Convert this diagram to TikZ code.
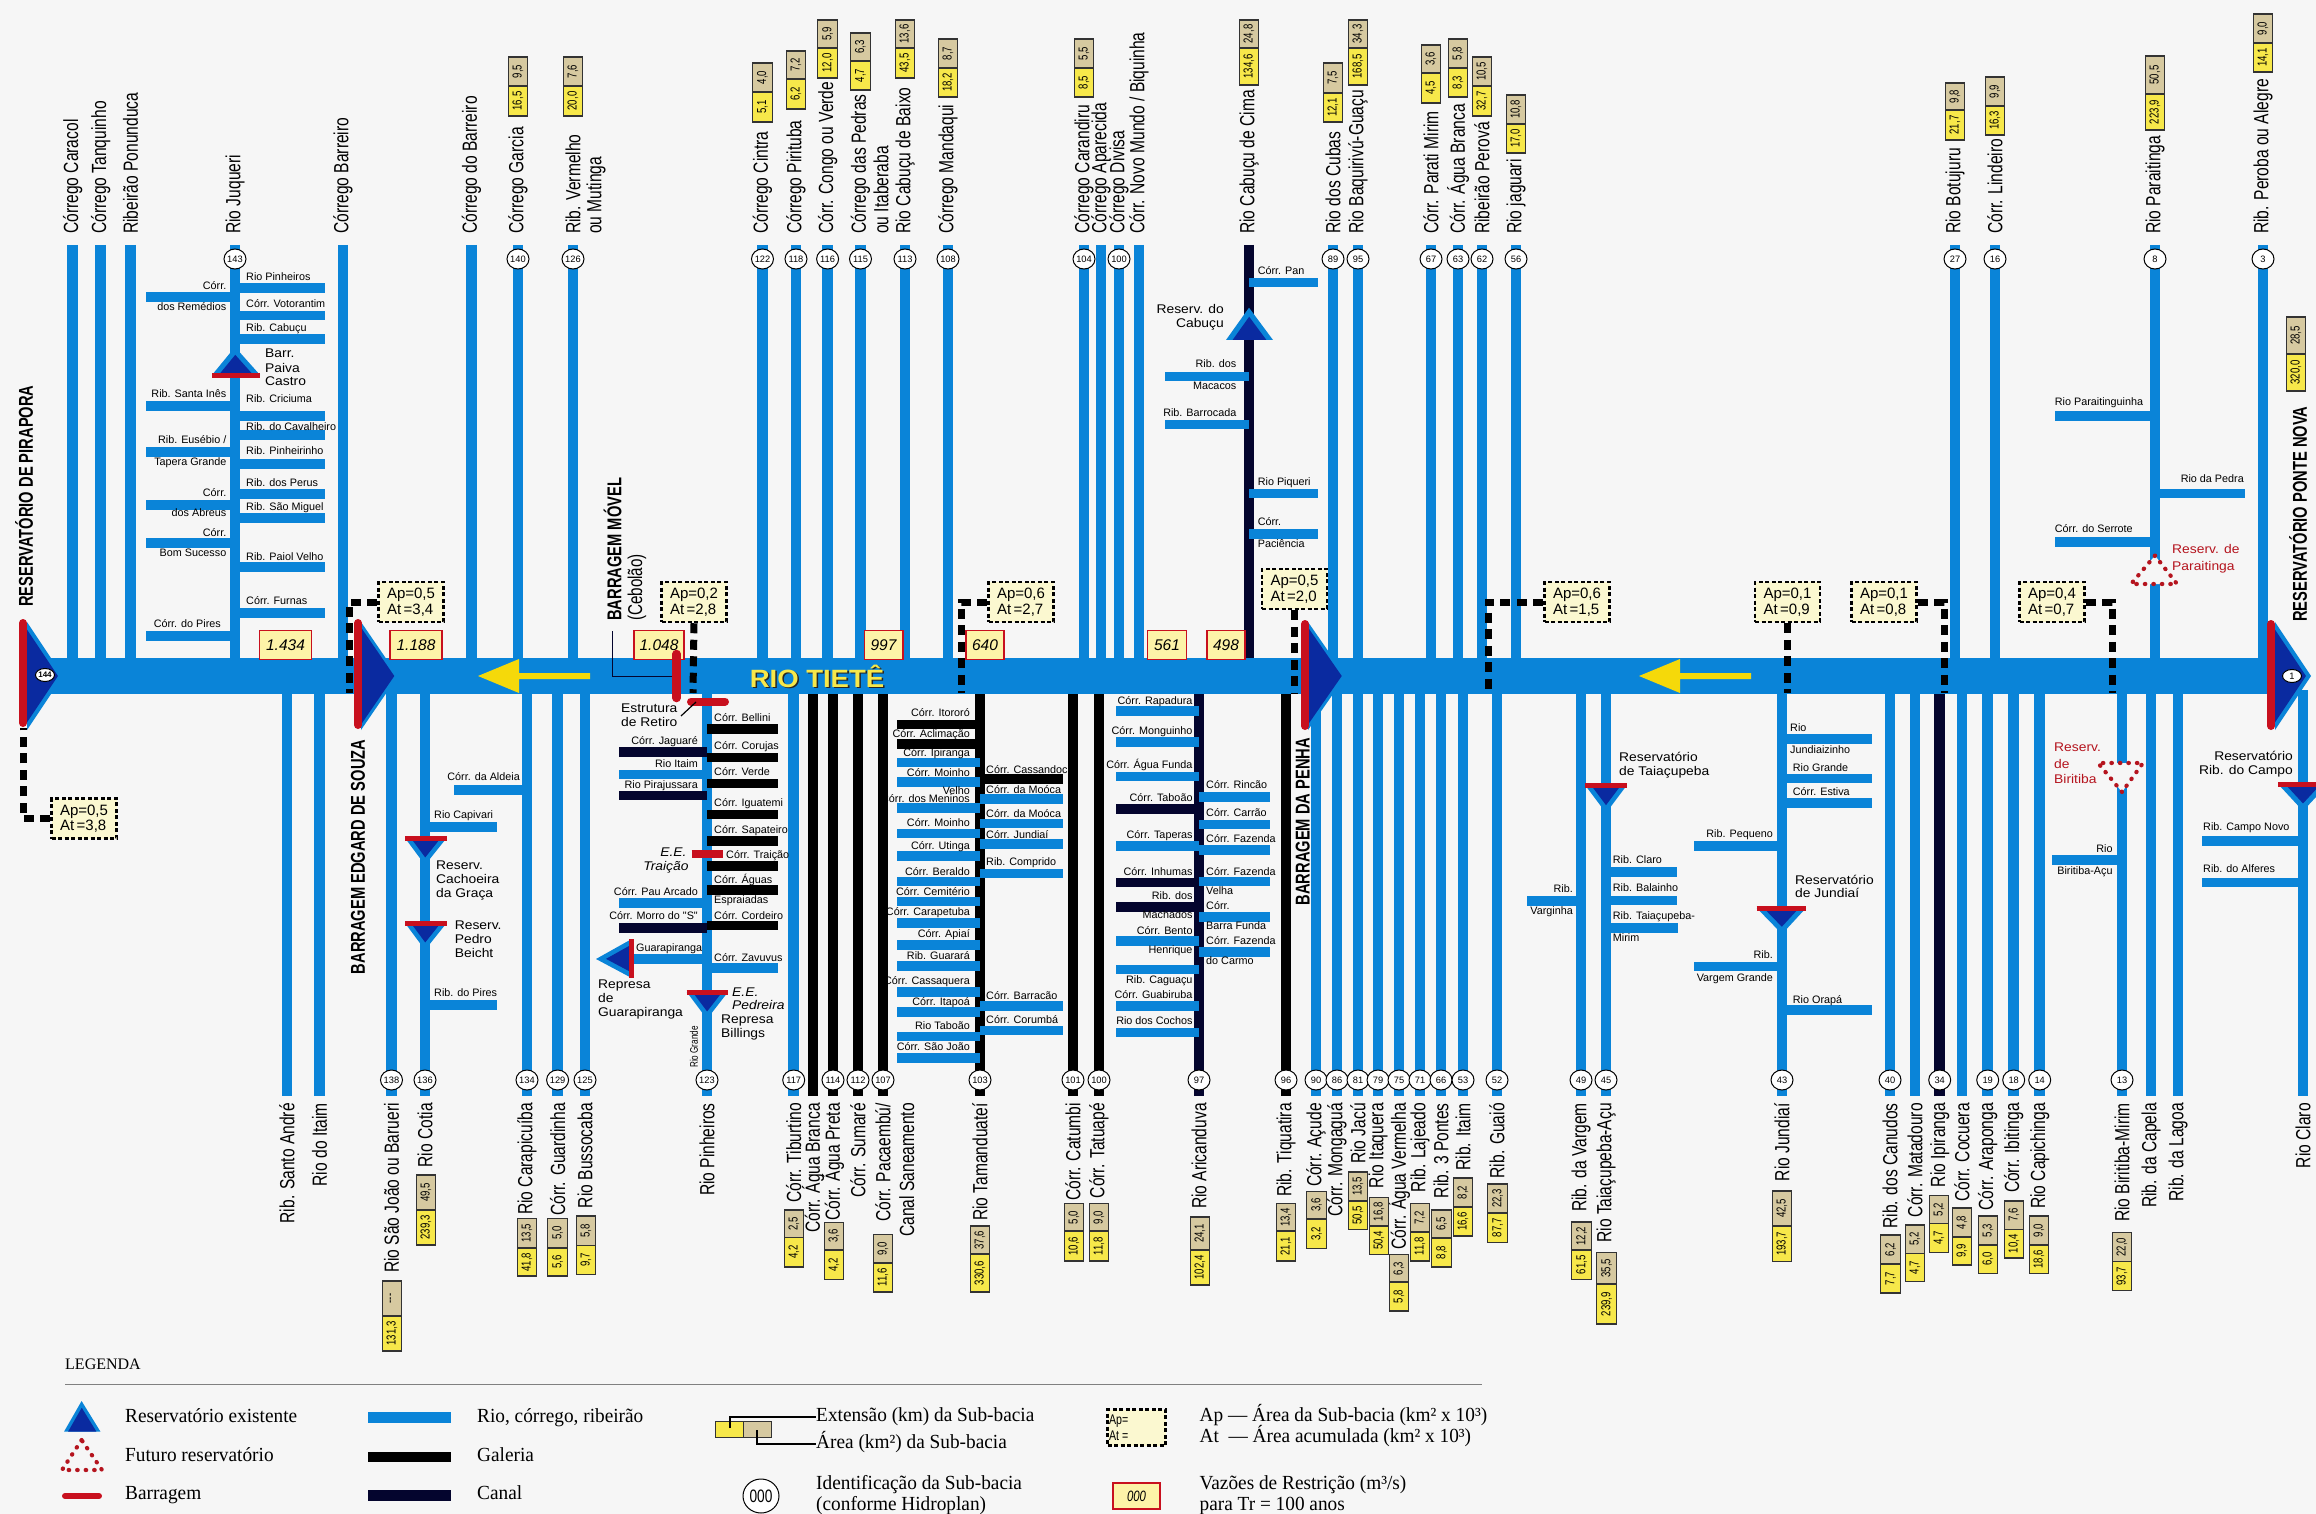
\documentclass[tikz,border=0pt]{standalone}
\usepackage{fontspec}
\usetikzlibrary{calc,shapes.geometric}
\setmainfont{Liberation Serif}
\newfontfamily\fS{Liberation Sans}
\newfontfamily\fN[FakeStretch=.76]{Liberation Sans}
\newfontfamily\fV[FakeStretch=.74]{Liberation Sans}
\newfontfamily\fB[FakeStretch=.735]{Liberation Sans}
\newfontfamily\fW[FakeStretch=1.1]{Liberation Sans}
\newfontfamily\fL[FakeStretch=.965]{Liberation Serif}
\definecolor{bgc}{HTML}{F6F6F6}
\definecolor{rivblue}{HTML}{0A84D8}
\definecolor{navyc}{HTML}{04052E}
\definecolor{dkblue}{HTML}{0A2AA0}
\definecolor{redc}{HTML}{C8101E}
\definecolor{yelc}{HTML}{F7E84A}
\definecolor{tanc}{HTML}{D6C9A0}
\definecolor{palec}{HTML}{FBF8D0}
\definecolor{valc}{HTML}{FDF3A8}
\definecolor{arrowc}{HTML}{F5D90A}
\definecolor{futc}{HTML}{B5141E}
\newcount\nn
\tikzset{
  riv/.style={draw=rivblue,line width=10.5},
  gal/.style={draw=black,line width=10.5},
  can/.style={draw=navyc,line width=10.5},
  briv/.style={draw=rivblue,line width=9.2},
  bgal/.style={draw=black,line width=9.2},
  bcan/.style={draw=navyc,line width=9.2},
  circ/.style={ellipse,draw=black,line width=1,fill=white,minimum width=22,minimum height=20,inner sep=0,font=\fS\fontsize{9.3}{10}\selectfont},
  toplbl/.style={rotate=90,anchor=west,inner sep=0,font=\fN\fontsize{20.5}{22}\selectfont},
  botlbl/.style={rotate=90,anchor=east,inner sep=0,font=\fN\fontsize{20.5}{22}\selectfont},
  boldlbl/.style={inner sep=0,rotate=90,font=\fB\bfseries\fontsize{20}{22}\selectfont},
  smlab/.style={inner sep=0,text height=8,text depth=2.3,font=\fS\fontsize{10.8}{12}\selectfont},
  widlab/.style={inner sep=0,anchor=west,text height=9.5,text depth=2.8,font=\fW\fontsize{12.6}{14}\selectfont},
  numt/.style={rotate=90,inner sep=0,font=\fV\fontsize{13}{14}\selectfont},
  valb/.style={draw=redc,line width=1.4,fill=valc,minimum height=29,inner sep=0,font=\fS\itshape\fontsize{15.5}{17}\selectfont},
  apb/.style={draw=black,line width=2.5,dash pattern=on 4 off 2.5,fill=palec,minimum width=65,minimum height=40,inner sep=0,align=left,font=\fS\fontsize{15}{15.5}\selectfont},
  dashc/.style={draw=black,line width=7,dash pattern=on 10 off 6.5},
  redbar/.style={draw=redc,line width=8,line cap=round},
  redflat/.style={draw=redc,line width=5},
  futtri/.style={draw=futc,fill=bgc,line width=4.2,dash pattern=on 0.5 off 8,line cap=round},
  leglab/.style={inner sep=0,anchor=west,text height=13,text depth=4,font=\fL\fontsize{20}{22}\selectfont},
}
\newcommand{\TopR}[4][riv]{\global\advance\nn by 1
  \coordinate (ra\the\nn) at (#2,245);
  \coordinate (rb\the\nn) at (#2,660);
  \draw[#1] (ra\the\nn) -- (rb\the\nn);
  \if\relax\detokenize{#3}\relax\else\node[circ] (c\the\nn) at (#2,259) {#3};\fi
  \node[toplbl] (l\the\nn) at (#2,234) {#4};}
\newcommand{\BotR}[4][riv]{\global\advance\nn by 1
  \coordinate (ra\the\nn) at (#2,690);
  \coordinate (rb\the\nn) at (#2,1096);
  \draw[#1] (ra\the\nn) -- (rb\the\nn);
  \if\relax\detokenize{#3}\relax\else\node[circ] (c\the\nn) at (#2,1080) {#3};\fi
  \node[botlbl] (l\the\nn) at (#2,1103) {#4};}
\newcommand{\TopL}[2]{\global\advance\nn by 1\node[toplbl] (l\the\nn) at (#1,234) {#2};}
\newcommand{\BotL}[2]{\global\advance\nn by 1\node[botlbl] (l\the\nn) at (#1,1103) {#2};}
\newcommand{\HBr}[4][briv]{\global\advance\nn by 1
  \coordinate (ha\the\nn) at (#2,#4);
  \coordinate (hb\the\nn) at (#3,#4);
  \draw[#1] (ha\the\nn) -- (hb\the\nn);}
\newcommand{\RLab}[4][]{\global\advance\nn by 1\node[smlab,anchor=west,#1] (s\the\nn) at (#2,#3) {#4};}
\newcommand{\LLab}[4][]{\global\advance\nn by 1\node[smlab,anchor=east,#1] (s\the\nn) at (#2,#3) {#4};}
\newcommand{\WLab}[4][]{\global\advance\nn by 1\node[widlab,#1] (w\the\nn) at (#2,#3) {#4};}
\newcommand{\NumB}[6]{\global\advance\nn by 1
  \fill[tanc] ({#1-9.8},#2) rectangle ({#1+9.8},#3);
  \fill[yelc] ({#1-9.8},#3) rectangle ({#1+9.8},#4);
  \draw[black!80,line width=1.1] ({#1-9.8},#2) rectangle ({#1+9.8},#4) ({#1-9.8},#3) -- ({#1+9.8},#3);
  \node[numt] (ny\the\nn) at (#1,{(#3+#4)/2}) {#5};
  \node[numt] (nt\the\nn) at (#1,{(#2+#3)/2}) {#6};}
\newcommand{\ValB}[3]{\global\advance\nn by 1
  \node[valb,minimum width=#2] (v\the\nn) at (#1,645) {#3};}
\newcommand{\TriR}[7][.28]{\global\advance\nn by 1
  \coordinate (ta\the\nn) at (#2,#3);
  \coordinate (tb\the\nn) at (#4,#5);
  \coordinate (tc\the\nn) at (#6,#7);
  \coordinate (tm\the\nn) at ($(tb\the\nn)!.5!(tc\the\nn)$);
  \fill[rivblue] (ta\the\nn) -- (tb\the\nn) -- (tc\the\nn) -- cycle;
  \fill[dkblue] ($(ta\the\nn)!#1!(tm\the\nn)$) -- ($(tb\the\nn)!#1!(tm\the\nn)$) -- ($(tc\the\nn)!#1!(tm\the\nn)$) -- cycle;}
\newcommand{\FutT}[6]{\global\advance\nn by 1
  \coordinate (fa\the\nn) at (#1,#2);
  \coordinate (fb\the\nn) at (#3,#4);
  \coordinate (fc\the\nn) at (#5,#6);
  \draw[futtri] (fa\the\nn) -- (fb\the\nn) -- (fc\the\nn) -- cycle;}
\newcommand{\YArrow}[3]{\fill[arrowc] (#1,676) -- ({#1+41},659) -- ({#1+41},673) -- ({#1+#2},673) -- ({#1+#2},679) -- ({#1+41},679) -- ({#1+41},693) -- cycle;}
\begin{document}
\begin{tikzpicture}[x=1pt,y=-1pt]
\useasboundingbox (0,0) rectangle (2316,1514);
\fill[bgc] (0,0) rectangle (2316,1514);
% ---- top tributaries
\TopR{72.7}{}{Córrego Caracol}
\TopR{100.6}{}{Córrego Tanquinho}
\TopR{130.5}{}{Ribeirão Ponunduca}
\TopR{235}{143}{Rio Juqueri}
\TopR{343}{}{Córrego Barreiro}
\TopR{471.5}{}{Córrego do Barreiro}
\TopR{518}{140}{Córrego Garcia}
\TopR{573}{126}{Rib. Vermelho}
\TopL{596}{ou Mutinga}
\TopR{762.5}{122}{Córrego Cintra}
\TopR{796}{118}{Córrego Pirituba}
\TopR{827.6}{116}{Córr. Congo ou Verde}
\TopR{860.5}{115}{Córrego das Pedras}
\TopL{881}{ou Itaberaba}
\TopR{905}{113}{Rio Cabuçu de Baixo}
\TopR{948}{108}{Córrego Mandaqui}
\TopR{1084}{104}{Córrego Carandiru}
\TopR{1101}{}{Córrego Aparecida}
\TopR{1119}{100}{Córrego Divisa}
\TopR{1139}{}{Córr. Novo Mundo / Biquinha}
\TopR[can]{1249}{}{Rio Cabuçu de Cima}
\TopR{1333}{89}{Rio dos Cubas}
\TopR{1358}{95}{Rio Baquirivú-Guaçu}
\TopR{1431}{67}{Córr. Parati Mirim}
\TopR{1458}{63}{Córr. Água Branca}
\TopR{1482}{62}{Ribeirão Perová}
\TopR{1516}{56}{Rio jaguari}
\TopR{1955}{27}{Rio Botujuru}
\TopR{1995}{16}{Córr. Lindeiro}
\TopR{2155}{8}{Rio Paraitinga}
\TopR{2263}{3}{Rib. Peroba ou Alegre}
% ---- bottom tributaries
\BotR{287}{}{Rib. Santo André}
\BotR{319.5}{}{Rio do Itaim}
\BotR{391.5}{138}{Rio São João ou Barueri}
\BotR{425}{136}{Rio Cotia}
\BotR{527}{134}{Rio Carapicuíba}
\BotR{557.6}{129}{Córr. Guardinha}
\BotR{585}{125}{Rio Bussocaba}
\BotR{707}{123}{Rio Pinheiros}
\BotR{793.7}{117}{Córr. Tiburtino}
\BotR[gal]{813}{}{Córr. Água Branca}
\BotR[gal]{833}{114}{Córr. Água Preta}
\BotR[gal]{858}{112}{Córr. Sumaré}
\BotR[gal]{883}{107}{Córr. Pacaembú/}
\BotL{906.7}{Canal Saneamento}
\BotR[gal]{980}{103}{Rio Tamanduateí}
\BotR[gal]{1073}{101}{Córr. Catumbi}
\BotR[gal]{1099}{100}{Córr. Tatuapé}
\BotR[can]{1199}{97}{Rio Aricanduva}
\BotR[gal]{1286}{96}{Rib. Tiquatira}
\BotR{1316}{90}{Córr. Açude}
\BotR{1337}{86}{Córr. Mongaguá}
\BotR{1358}{81}{Rio Jacú}
\BotR{1378}{79}{Rio Itaquera}
\BotR{1399}{75}{Córr. Água Vermelha}
\BotR{1420}{71}{Rib. Lajeado}
\BotR{1441}{66}{Rib. 3 Pontes}
\BotR{1463}{53}{Rib. Itaim}
\BotR{1497}{52}{Rib. Guaió}
\BotR{1581}{49}{Rib. da Vargem}
\BotR{1606}{45}{Rio Taiaçupeba-Açu}
\BotR{1782}{43}{Rio Jundiaí}
\BotR{1890}{40}{Rib. dos Canudos}
\BotR{1915}{}{Córr. Matadouro}
\BotR[can]{1939.7}{34}{Rio Ipiranga}
\BotR{1962}{}{Córr. Cocuera}
\BotR{1987.7}{19}{Córr. Araponga}
\BotR{2013.7}{18}{Córr. Ibitinga}
\BotR{2039.7}{14}{Rio Capichinga}
\BotR{2122}{13}{Rio Biritiba-Mirim}
\BotR{2151}{}{Rib. da Capela}
\BotR{2178}{}{Rib. da Lagoa}
\BotR{2303}{}{Rio Claro}
% ---- branches: Juqueri
\HBr{235}{324.5}{288}\HBr{235}{324.5}{315.5}\HBr{235}{324.5}{339}\HBr{235}{324.5}{416}\HBr{235}{324.5}{435}
\HBr{235}{324.5}{464}\HBr{235}{324.5}{494}\HBr{235}{324.5}{518}\HBr{235}{324.5}{567}\HBr{235}{324.5}{613}
\HBr{146}{235}{297}\HBr{146}{235}{406}\HBr{146}{235}{452}\HBr{146}{235}{505}\HBr{146}{235}{543}\HBr{146}{235}{636}
% Cabuçu
\HBr{1249}{1318}{282.4}\HBr{1249}{1318}{493.6}\HBr{1249}{1318}{534}\HBr{1165}{1249}{376.5}\HBr{1165}{1249}{424.8}
% Paraitinga
\HBr{2055}{2155}{416}\HBr{2055}{2155}{542}\HBr{2155}{2244.5}{493.6}
% Cotia, Carapicuíba
\HBr{454}{527}{790}\HBr{425}{497}{827}\HBr{425}{497}{1005}
% Pinheiros
\HBr[bgal]{707}{778}{729}\HBr[bgal]{707}{778}{757.7}\HBr[bgal]{707}{778}{783.4}\HBr[bgal]{707}{778}{814.4}
\HBr[bgal]{707}{778}{841}\HBr[bgal]{707}{778}{866}\HBr[bgal]{707}{778}{890}\HBr[bgal]{707}{778}{925.4}\HBr{707}{778}{968}
\HBr[bcan]{619}{707}{752}\HBr{619}{707}{774.4}\HBr[bcan]{619}{707}{795.7}\HBr{619}{707}{903}\HBr[bcan]{619}{707}{928}
\HBr{632}{707}{959}
% Tamanduateí
\HBr[bgal]{897}{980}{724.7}\HBr[bgal]{897}{980}{744}
\HBr{897}{980}{762.6}\HBr{897}{980}{782}\HBr{897}{980}{808}\HBr{897}{980}{833.6}\HBr{897}{980}{856}\HBr{897}{980}{881.7}
\HBr{897}{980}{901.7}\HBr{897}{980}{923}\HBr{897}{980}{945}\HBr{897}{980}{966}\HBr{897}{980}{992}\HBr{897}{980}{1012}
\HBr{897}{980}{1036.8}\HBr{897}{980}{1058}
\HBr[bgal]{980}{1063}{779}\HBr{980}{1063}{799}\HBr{980}{1063}{823.4}\HBr{980}{1063}{844}\HBr{980}{1063}{873.6}
\HBr{980}{1063}{1006}\HBr{980}{1063}{1030.7}
% Aricanduva
\HBr{1116}{1199}{711}\HBr{1116}{1199}{742}\HBr{1116}{1199}{776.5}\HBr[bcan]{1116}{1199}{809}\HBr{1116}{1199}{846}
\HBr[bcan]{1116}{1199}{882.6}\HBr[bcan]{1116}{1199}{907}\HBr{1116}{1199}{941}\HBr{1116}{1199}{969.5}\HBr{1116}{1199}{1006}\HBr{1116}{1199}{1032.7}
\HBr{1199}{1270}{797}\HBr{1199}{1270}{824.6}\HBr{1199}{1270}{850}\HBr{1199}{1270}{881.7}\HBr{1199}{1270}{917}\HBr{1199}{1270}{952}
% Taiaçupeba, Vargem, Jundiaí
\HBr{1606}{1677}{872}\HBr{1606}{1677}{900.4}\HBr{1606}{1678}{928}\HBr{1527}{1581}{901}
\HBr{1782}{1872}{739}\HBr{1782}{1872}{778.6}\HBr{1782}{1872}{803}\HBr{1782}{1872}{1010}\HBr{1694}{1782}{846}\HBr{1694}{1782}{966.5}
% Biritiba, Claro
\HBr{2052}{2122}{860}\HBr{2202}{2303}{841}\HBr{2202}{2303}{882.6}
% ---- main river
\coordinate (mainA) at (30,676);
\coordinate (mainB) at (2285,676);
\draw[draw=rivblue,line width=36] (mainA) -- (mainB);
\YArrow{478}{112}{}
\YArrow{1639}{112}{}
\node[inner sep=0,text=black!85,font=\fW\bfseries\fontsize{25}{27}\selectfont] (tieteS) at (818.6,677.6) {RIO TIETÊ};
\node[inner sep=0,text=yelc,font=\fW\bfseries\fontsize{25}{27}\selectfont] (tiete) at (817,676) {RIO TIETÊ};
% ---- flow values
\ValB{285.5}{51.5}{1.434}
\ValB{416}{52}{1.188}
\ValB{659}{50}{1.048}
\ValB{883.5}{38.6}{997}
\ValB{985}{38}{640}
\ValB{1167}{39.5}{561}
\ValB{1226}{38}{498}
% ---- dams
\TriR[.14]{63}{676}{27}{622}{27}{730}
\draw[redbar] (23,623) -- (23,723);
\node[circ,minimum width=19,minimum height=13,font=\fS\bfseries\fontsize{8}{9}\selectfont] (c144) at (45,675) {144};
\TriR[.1]{398}{676}{361}{622}{361}{730}
\draw[redbar] (358,623) -- (358,725);
\TriR[.1]{1345.5}{676}{1308}{622}{1308}{730}
\draw[redbar] (1305,624) -- (1305,726);
\TriR[.14]{2311}{676}{2275}{622}{2275}{730}
\draw[redbar] (2271,624) -- (2271,726);
\node[circ,minimum width=19,minimum height=13] (c1) at (2292,676) {1};
\TriR{235}{347}{212}{375}{260}{375}
\draw[redflat] (212,375) -- (260,375);
\TriR{425}{865}{405}{838}{446.6}{838}
\draw[redflat] (405,838) -- (446.6,838);
\TriR{425}{950}{405}{923}{446.6}{923}
\draw[redflat] (405,923) -- (446.6,923);
\TriR{707}{1019}{686.7}{992}{728}{992}
\draw[redflat] (686.7,992) -- (728,992);
\TriR{1606}{813}{1585}{785}{1627}{785}
\draw[redflat] (1585,785) -- (1627,785);
\TriR{1782}{934}{1756.7}{908}{1806}{908}
\draw[redflat] (1756.7,908) -- (1806,908);
\TriR{2303}{811}{2278}{784}{2328}{784}
\draw[redflat] (2278,784) -- (2328,784);
\TriR{596}{959}{631.7}{939}{631.7}{978}
\draw[redflat] (631.7,939) -- (631.7,978);
\TriR{1249}{307.7}{1226}{340}{1273}{340}
\FutT{2155}{555.6}{2131}{584}{2177}{584}
\FutT{2122}{792}{2098}{763}{2143}{763}
% Barragem móvel and retiro
\coordinate (bmA) at (612.5,631);
\coordinate (bmB) at (672,676);
\draw[navyc,line width=1] (bmA) |- (bmB);
\draw[redbar,line width=8.5] (676.5,654) -- (676.5,698);
\draw[redbar] (691,701.5) -- (725,701.5);
\coordinate (erA) at (681,716);
\coordinate (erB) at (696,702);
\draw[black,line width=1.2] (erA) -- (erB);
\draw[draw=redc,line width=8] (691.7,854) -- (723,854);
% ---- sub-basin boxes top
\NumB{518}{57}{86}{116}{16,5}{9,5}
\NumB{573}{57}{86}{116}{20,0}{7,6}
\NumB{762.5}{63}{92}{122}{5,1}{4,0}
\NumB{796}{51}{79}{109}{6,2}{7,2}
\NumB{827.6}{20}{48}{78}{12,0}{5,9}
\NumB{860.5}{33}{61}{90}{4,7}{6,3}
\NumB{905}{20}{48}{78}{43,5}{13,6}
\NumB{948}{39}{68}{97}{18,2}{8,7}
\NumB{1084}{39}{68}{97}{8,5}{5,5}
\NumB{1249}{20}{48}{85}{134,6}{24,8}
\NumB{1333}{63}{93}{122}{12,1}{7,5}
\NumB{1358}{20}{48}{85}{168,5}{34,3}
\NumB{1431}{45}{73}{103}{4,5}{3,6}
\NumB{1458}{39}{68}{97}{8,3}{5,8}
\NumB{1482}{57}{86}{116}{32,7}{10,5}
\NumB{1516}{95}{124}{153}{17,0}{10,8}
\NumB{1955}{83}{110}{140}{21,7}{9,8}
\NumB{1995}{77}{106}{135}{16,3}{9,9}
\NumB{2155}{56}{94}{130}{223,9}{50,5}
\NumB{2263}{14}{43}{72}{14,1}{9,0}
\NumB{2296}{317}{354}{391}{320,0}{28,5}
% ---- sub-basin boxes bottom
\NumB{392}{1281}{1316}{1351}{131,3}{---}
\NumB{426}{1175}{1210}{1245}{239,3}{49,5}
\NumB{527}{1218.5}{1248}{1276}{41,8}{13,5}
\NumB{557.6}{1218.5}{1248}{1276}{5,6}{5,0}
\NumB{586}{1216}{1245.6}{1274.5}{9,7}{5,8}
\NumB{794}{1210}{1237.5}{1267}{4,2}{2,5}
\NumB{834}{1222.4}{1250}{1279.5}{4,2}{3,6}
\NumB{883}{1234.7}{1263}{1292}{11,6}{9,0}
\NumB{980}{1226}{1254}{1292}{330,6}{37,6}
\NumB{1074}{1203.7}{1231}{1261}{10,6}{5,0}
\NumB{1099}{1203.7}{1231}{1261}{11,8}{9,0}
\NumB{1200}{1217}{1250}{1285}{102,4}{24,1}
\NumB{1286}{1203.7}{1231}{1261}{21,1}{13,4}
\NumB{1316.7}{1191.4}{1219}{1248.5}{3,2}{3,6}
\NumB{1358}{1172}{1201}{1229.4}{50,5}{13,5}
\NumB{1379}{1197.5}{1226}{1254.7}{50,4}{16,8}
\NumB{1399}{1254.7}{1282}{1311}{5,8}{6,3}
\NumB{1420}{1203.7}{1232}{1261}{11,8}{7,2}
\NumB{1441.7}{1210}{1238}{1267}{8,8}{6,5}
\NumB{1463}{1178}{1207}{1236}{16,6}{8,2}
\NumB{1497.7}{1184}{1213}{1242.4}{87,7}{22,3}
\NumB{1581.7}{1222}{1250}{1279.4}{61,5}{12,2}
\NumB{1606.7}{1252.6}{1284}{1324}{239,9}{35,5}
\NumB{1782}{1191}{1226}{1261.6}{193,7}{42,5}
\NumB{1890.7}{1235}{1264}{1293}{7,7}{6,2}
\NumB{1915}{1225}{1253.5}{1281.7}{4,7}{5,2}
\NumB{1939}{1195.5}{1223.6}{1252.6}{4,7}{5,2}
\NumB{1962}{1208}{1237}{1265}{9,9}{4,8}
\NumB{1988}{1216}{1245}{1273.6}{6,0}{5,3}
\NumB{2014}{1201}{1229.4}{1258}{10,4}{7,6}
\NumB{2039}{1216}{1245}{1273.6}{18,6}{9,0}
\NumB{2122}{1232.6}{1261.6}{1290.6}{93,7}{22,0}
% ---- Ap / At boxes and their dashed connectors
\node[apb] (ap1) at (411,602) {Ap=0,5\\At\,=3,4};
\node[apb] (ap2) at (84,818.5) {Ap=0,5\\At\,=3,8};
\node[apb] (ap3) at (694,602) {Ap=0,2\\At\,=2,8};
\node[apb] (ap4) at (1021,602) {Ap=0,6\\At\,=2,7};
\node[apb] (ap5) at (1294.5,589) {Ap=0,5\\At\,=2,0};
\node[apb] (ap6) at (1577,602) {Ap=0,6\\At\,=1,5};
\node[apb] (ap7) at (1787.5,602) {Ap=0,1\\At\,=0,9};
\node[apb] (ap8) at (1884,602) {Ap=0,1\\At\,=0,8};
\node[apb] (ap9) at (2052,602) {Ap=0,4\\At\,=0,7};
\coordinate (d1) at (349,693);
\coordinate (d2) at (23,728);
\coordinate (d3) at (693,693);
\coordinate (d4) at (961,693);
\coordinate (d5) at (1294.5,693);
\coordinate (d6) at (1488,693);
\coordinate (d7) at (1787.5,693);
\coordinate (d8) at (1944,693);
\coordinate (d9) at (2112,693);
\draw[dashc] (ap1.west) -| (d1);
\draw[dashc] (ap2.west) -| (d2);
\draw[dashc] (ap3.south) -- (d3);
\draw[dashc] (ap4.west) -| (d4);
\draw[dashc] (ap5.south) -- (d5);
\draw[dashc] (ap6.west) -| (d6);
\draw[dashc] (ap7.south) -- (d7);
\draw[dashc] (ap8.east) -| (d8);
\draw[dashc] (ap9.east) -| (d9);
% ---- bold vertical titles
\node[boldlbl,anchor=west] (t1) at (24,607) {RESERVATÓRIO DE PIRAPORA};
\node[boldlbl,anchor=east] (t2) at (358,739.5) {BARRAGEM EDGARD DE SOUZA};
\node[boldlbl,anchor=west] (t3) at (612.5,621) {BARRAGEM MÓVEL};
\node[boldlbl,anchor=west,font=\fN\fontsize{20}{22}\selectfont] (t4) at (637,621) {(Cebolão)};
\node[boldlbl,anchor=east] (t5) at (1302.7,737.7) {BARRAGEM DA PENHA};
\node[boldlbl,anchor=west] (t6) at (2298,622) {RESERVATÓRIO PONTE NOVA};
% ---- small labels: Juqueri
\RLab{246}{278}{Rio Pinheiros}\RLab{246}{305}{Córr. Votorantim}\RLab{246}{329}{Rib. Cabuçu}\RLab{246}{400}{Rib. Criciuma}
\RLab{246}{427.5}{Rib. do Cavalheiro}\RLab{246}{452}{Rib. Pinheirinho}\RLab{246}{483.5}{Rib. dos Perus}\RLab{246}{508}{Rib. São Miguel}
\RLab{246}{558}{Rib. Paiol Velho}\RLab{246}{601.5}{Córr. Furnas}
\LLab{226.5}{286.5}{Córr.}\LLab{226.5}{308}{dos Remédios}\LLab{226.5}{395}{Rib. Santa Inês}\LLab{226.5}{441}{Rib. Eusébio /}
\LLab{226.5}{463}{Tapera Grande}\LLab{226.5}{494}{Córr.}\LLab{226.5}{514}{dos Abreus}\LLab{226.5}{533.6}{Córr.}\LLab{226.5}{554}{Bom Sucesso}
\LLab{221}{625}{Córr. do Pires}
\WLab{265}{354.5}{Barr.}\WLab{265}{369}{Paiva}\WLab{265}{382.5}{Castro}
% Cotia
\LLab{520}{778}{Córr. da Aldeia}\RLab{434}{816}{Rio Capivari}\RLab{434}{994}{Rib. do Pires}
\WLab{436}{866}{Reserv.}\WLab{436}{880.5}{Cachoeira}\WLab{436}{894}{da Graça}
\WLab{454.6}{926.5}{Reserv.}\WLab{454.6}{940}{Pedro}\WLab{454.6}{954.5}{Beicht}
% Pinheiros
\WLab{621}{709}{Estrutura}\WLab{621}{722.7}{de Retiro}
\RLab{714}{719}{Córr. Bellini}\RLab{714}{747}{Córr. Corujas}\RLab{714}{773}{Córr. Verde}\RLab{714}{804}{Córr. Iguatemi}
\RLab{714}{831}{Córr. Sapateiro}\RLab{726}{856}{Córr. Traição}\RLab{714}{881}{Córr. Águas}\RLab{714}{901}{Espraiadas}
\RLab{714}{916.4}{Córr. Cordeiro}\RLab{714}{959}{Córr. Zavuvus}
\LLab{698}{742}{Córr. Jaguaré}\LLab{698}{764.6}{Rio Itaim}\LLab{698}{786}{Rio Pirajussara}\LLab{698}{893}{Córr. Pau Arcado}
\LLab{698}{917}{Córr. Morro do "S"}\RLab{636}{949}{Guarapiranga}
\WLab[anchor=east,font=\fW\itshape\fontsize{12.6}{14}\selectfont]{686.7}{853}{E.E.}
\WLab[anchor=east,font=\fW\itshape\fontsize{12.6}{14}\selectfont]{688.7}{866.7}{Traição}
\WLab{598}{985.4}{Represa}\WLab{598}{999}{de}\WLab{598}{1012.7}{Guarapiranga}
\WLab[font=\fW\itshape\fontsize{12.6}{14}\selectfont]{732}{993.5}{E.E.}
\WLab[font=\fW\itshape\fontsize{12.6}{14}\selectfont]{732}{1006}{Pedreira}
\WLab{721}{1020.5}{Represa}\WLab{721}{1034}{Billings}
\global\advance\nn by 1
\node[rotate=90,anchor=west,inner sep=0,font=\fV\fontsize{11}{12}\selectfont] (rg) at (694,1068) {Rio Grande};
% Tamanduateí
\LLab{970}{714}{Córr. Itororó}\LLab{970}{734.5}{Córr. Aclimação}\LLab{970}{754}{Córr. Ipiranga}\LLab{970}{773.6}{Córr. Moinho}
\LLab{970}{791.6}{Velho}\LLab{970}{800}{Córr. dos Meninos}\LLab{970}{824}{Córr. Moinho}\LLab{970}{846.7}{Córr. Utinga}
\LLab{970}{873}{Córr. Beraldo}\LLab{970}{893}{Córr. Cemitério}\LLab{970}{913}{Córr. Carapetuba}\LLab{970}{935}{Córr. Apiaí}
\LLab{970}{956.4}{Rib. Guarará}\LLab{970}{981.7}{Córr. Cassaquera}\LLab{970}{1002.5}{Córr. Itapoá}\LLab{970}{1027}{Rio Taboão}\LLab{970}{1048}{Córr. São João}
\RLab{986}{770.8}{Córr. Cassandoca}\RLab{986}{790.8}{Córr. da Moóca}\RLab{986}{814.4}{Córr. da Moóca}\RLab{986}{835.6}{Córr. Jundiaí}
\RLab{986}{862.6}{Rib. Comprido}\RLab{986}{997}{Córr. Barracão}\RLab{986}{1021}{Córr. Corumbá}
% Aricanduva
\LLab{1192.7}{701.4}{Córr. Rapadura}\LLab{1192.7}{731.6}{Córr. Monguinho}\LLab{1192.7}{766}{Córr. Água Funda}\LLab{1192.7}{799}{Córr. Taboão}
\LLab{1192.7}{835.6}{Córr. Taperas}\LLab{1192.7}{873}{Córr. Inhumas}\LLab{1192.7}{896.4}{Rib. dos}\LLab{1192.7}{916}{Machados}
\LLab{1192.7}{931.5}{Córr. Bento}\LLab{1192.7}{950.7}{Henrique}\LLab{1192.7}{980.5}{Rib. Caguaçu}\LLab{1192.7}{995.6}{Córr. Guabiruba}\LLab{1192.7}{1022}{Rio dos Cochos}
\RLab{1206}{786}{Córr. Rincão}\RLab{1206}{814}{Córr. Carrão}\RLab{1206}{839.7}{Córr. Fazenda}\RLab{1206}{872.4}{Córr. Fazenda}\RLab{1206}{892}{Velha}
\RLab{1206}{906.6}{Córr.}\RLab{1206}{926.6}{Barra Funda}\RLab{1206}{941.7}{Córr. Fazenda}\RLab{1206}{961.7}{do Carmo}
% Cabuçu de Cima
\RLab{1257.6}{271.4}{Córr. Pan}\RLab{1257.6}{482.6}{Rio Piqueri}\RLab{1257.6}{522.6}{Córr.}\RLab{1257.6}{544.6}{Paciência}
\LLab{1236.5}{365}{Rib. dos}\LLab{1236.5}{387}{Macacos}\LLab{1236.5}{414}{Rib. Barrocada}
\WLab[anchor=east]{1224}{310}{Reserv. do}\WLab[anchor=east]{1224}{323.7}{Cabuçu}
% Taiaçupeba, Jundiaí
\WLab{1619}{758}{Reservatório}\WLab{1619}{772}{de Taiaçupeba}
\RLab{1612.7}{860.7}{Rib. Claro}\RLab{1612.7}{888.8}{Rib. Balainho}\RLab{1612.7}{917}{Rib. Taiaçupeba-}\RLab{1612.7}{939}{Mirim}
\LLab{1573}{890}{Rib.}\LLab{1573}{911.6}{Varginha}
\RLab{1790}{729}{Rio}\RLab{1790}{751}{Jundiaizinho}\RLab{1792.7}{769}{Rio Grande}\RLab{1792.7}{793}{Córr. Estiva}\RLab{1792.7}{1001}{Rio Orapá}
\LLab{1773}{835}{Rib. Pequeno}\LLab{1773}{955.8}{Rib.}\LLab{1773}{978.5}{Vargem Grande}
\WLab{1795}{881}{Reservatório}\WLab{1795}{893.7}{de Jundiaí}
% Biritiba, Claro, Paraitinga
\WLab[text=futc]{2054}{748}{Reserv.}\WLab[text=futc]{2054}{764.7}{de}\WLab[text=futc]{2054}{780}{Biritiba}
\LLab{2112.7}{850}{Rio}\LLab{2112.7}{872}{Biritiba-Açu}
\WLab[anchor=east]{2293}{757}{Reservatório}\WLab[anchor=east]{2293}{771.4}{Rib. do Campo}
\RLab{2203}{828}{Rib. Campo Novo}\RLab{2203}{869.6}{Rib. do Alferes}
\RLab{2054.7}{403}{Rio Paraitinguinha}\RLab{2054.7}{529.5}{Córr. do Serrote}\LLab{2244}{479.4}{Rio da Pedra}
\WLab[text=futc]{2172}{550}{Reserv. de}\WLab[text=futc]{2172}{567}{Paraitinga}
% ---- legend
\node[inner sep=0,anchor=west,font=\rmfamily\fontsize{16}{18}\selectfont] (legt) at (65,1364) {LEGENDA};
\coordinate (lgA) at (65,1384.3);
\coordinate (lgB) at (1482,1384.3);
\draw[gray,line width=1.5] (lgA) -- (lgB);
\TriR[.22]{81.6}{1401}{64}{1431.7}{100.5}{1431.7}
\FutT{81.6}{1440}{62}{1470}{102}{1470}
\coordinate (lrA) at (65,1496);
\coordinate (lrB) at (99,1496);
\draw[draw=redc,line width=6,line cap=round] (lrA) -- (lrB);
\node[leglab] (lg1) at (125,1417.7) {Reservatório existente};
\node[leglab] (lg2) at (125,1456.7) {Futuro reservatório};
\node[leglab] (lg3) at (125,1495) {Barragem};
\coordinate (laA) at (368,1417.7);\coordinate (laB) at (451,1417.7);
\coordinate (lbA) at (368,1457);\coordinate (lbB) at (451,1457);
\coordinate (lcA) at (368,1495.7);\coordinate (lcB) at (451,1495.7);
\draw[riv] (laA) -- (laB);
\draw[gal] (lbA) -- (lbB);
\draw[can] (lcA) -- (lcB);
\node[leglab] (lg4) at (477,1417.7) {Rio, córrego, ribeirão};
\node[leglab] (lg5) at (477,1457) {Galeria};
\node[leglab] (lg6) at (477,1495) {Canal};
\fill[yelc] (715.6,1421) rectangle (743.6,1437);
\fill[tanc] (743.6,1421) rectangle (771,1437);
\draw[black!80,line width=1] (715.6,1421) rectangle (771,1437) (743.6,1421) -- (743.6,1437);
\node[leglab] (lg7) at (816,1417) {Extensão (km) da Sub-bacia};
\node[leglab] (lg8) at (816,1444) {Área (km²) da Sub-bacia};
\coordinate (lyA) at (730,1428);
\coordinate (lyB) at (757,1430);
\draw[black,line width=2.5] (lyA) |- (lg7.west);
\draw[black,line width=2.5] (lyB) |- (lg8.west);
\node[circ,minimum width=36,minimum height=34,font=\fN\fontsize{18}{20}\selectfont] (lg9) at (761,1496) {000};
\node[leglab] (lg10) at (816,1485) {Identificação da Sub-bacia};
\node[leglab] (lg11) at (816,1505.7) {(conforme Hidroplan)};
\node[apb,minimum width=58,minimum height=36,font=\fN\fontsize{14}{15.5}\selectfont] (lg12) at (1136.5,1427.5) {Ap=\phantom{000000}\\At =\phantom{00000}};
\node[leglab] (lg13) at (1199.4,1417) {Ap — Área da Sub-bacia (km² x 10³)};
\node[leglab] (lg14) at (1199.4,1438) {At \ — Área acumulada (km² x 10³)};
\node[valb,line width=2,minimum width=47,minimum height=26,font=\fN\itshape\fontsize{15}{16}\selectfont] (lg15) at (1136.5,1496) {000};
\node[leglab] (lg16) at (1199.4,1485) {Vazões de Restrição (m³/s)};
\node[leglab] (lg17) at (1199.4,1505.7) {para Tr = 100 anos};
\end{tikzpicture}
\end{document}
